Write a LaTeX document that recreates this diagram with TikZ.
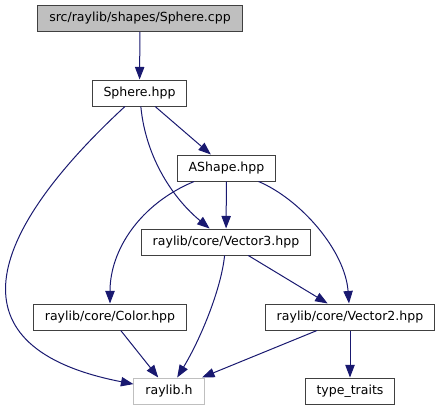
\documentclass[tikz,border=0pt]{standalone}
\usepackage{fontspec}
\setmainfont{DejaVu Sans}
\usetikzlibrary{arrows.meta}
\definecolor{edgeblue}{HTML}{191970}
\definecolor{boxgray}{HTML}{BFBFBF}
\definecolor{boxline}{HTML}{404040}

\begin{document}
\begin{tikzpicture}[x=0.75pt,y=-0.75pt,
    file/.style={draw=boxline,line width=0.75pt,fill=white,inner xsep=8.6pt,inner ysep=0pt,
      minimum height=19.5pt,text height=7pt,text depth=2pt,font=\fontsize{9.4}{11}\selectfont},
    dep/.style={draw=edgeblue,line width=0.75pt,-{Triangle[length=9.4pt,width=7pt]}}]
    \useasboundingbox (0,0) rectangle (442,411);

    % Файли (центри у пікселях)
    \node[file,fill=boxgray] (cpp) at (140,18.5) {src/raylib/shapes/Sphere.cpp};
    \node[file] (sphere) at (139.5,93) {Sphere.hpp};
    \node[file] (ashape) at (226.5,168) {AShape.hpp};
    \node[file] (vecthree) at (226,242) {raylib/core/Vector3.hpp};
    \node[file] (color) at (110,317) {raylib/core/Color.hpp};
    \node[file] (vectwo) at (350,317) {raylib/core/Vector2.hpp};
    \node[file,draw=boxgray] (raylib) at (169,391) {raylib.h};
    \node[file] (traits) at (350,391) {type\_traits};

    % Залежності
    \draw[dep] (cpp) -- (sphere);
    \draw[dep] (sphere) -- (ashape);
    \draw[dep] (sphere) .. controls (146,160) and (175,200) .. (vecthree);
    \draw[dep] (sphere) .. controls (-14,235) and (-52,348) .. (raylib);
    \draw[dep] (ashape) -- (vecthree);
    \draw[dep] (ashape) .. controls (140,204) and (110,250) .. (color);
    \draw[dep] (ashape) .. controls (300,199) and (345,250) .. (vectwo);
    \draw[dep] (vecthree) .. controls (221,290) and (200,340) .. (raylib);
    \draw[dep] (vecthree) -- (vectwo);
    \draw[dep] (color) -- (raylib);
    \draw[dep] (vectwo) -- (raylib);
    \draw[dep] (vectwo) -- (traits);
\end{tikzpicture}
\end{document}
